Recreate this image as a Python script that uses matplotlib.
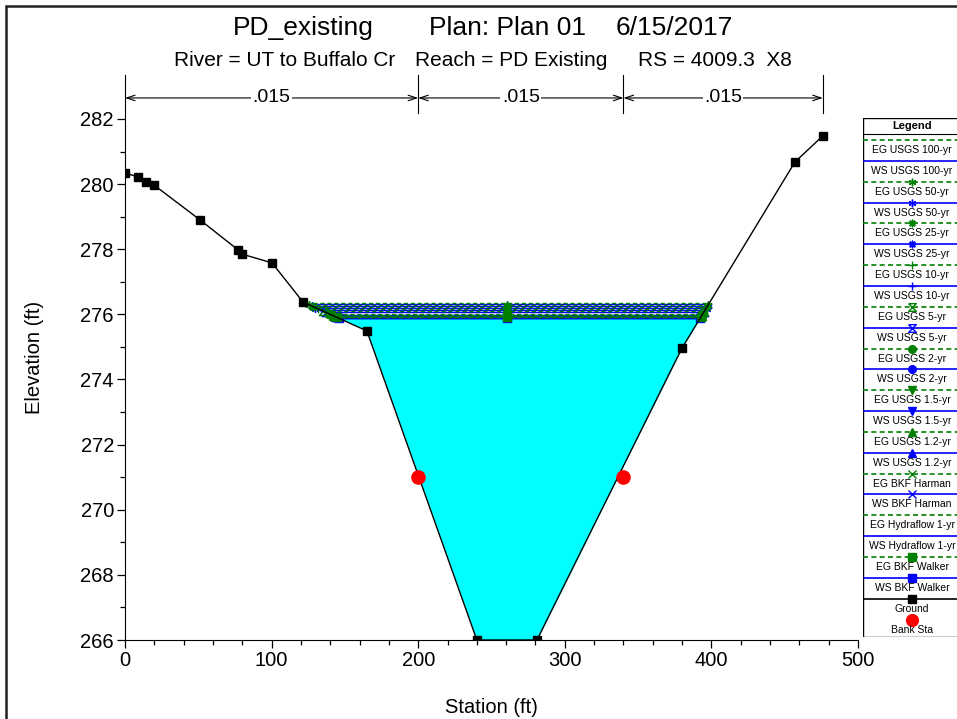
import numpy as np
import matplotlib.pyplot as plt
from matplotlib.patches import Rectangle

plt.rcParams['font.family'] = ['Liberation Sans', 'DejaVu Sans']

# ground cross section
ground_sta = [0, 8.9, 14.3, 19.8, 51.2, 77.1, 79.8, 100.3, 121.4, 165.0,
              240.0, 281.0, 380.0, 457.0, 476.0]
ground_elev = [280.34, 280.22, 280.07, 279.97, 278.90, 277.98, 277.85, 277.58,
               276.38, 275.49, 266.0, 266.0, 274.97, 280.68, 281.48]

bank_sta = [200, 340]
bank_elev = [271.0, 271.0]

# manning's n regions
n_bounds = [0, 200, 340, 476]
n_values = ['.015', '.015', '.015']

# water surface profiles
profiles = ['USGS 100-yr', 'USGS 50-yr', 'USGS 25-yr', 'USGS 10-yr', 'USGS 5-yr',
            'USGS 2-yr', 'USGS 1.5-yr', 'USGS 1.2-yr', 'BKF Harman',
            'Hydraflow 1-yr', 'BKF Walker']
eg_elev = [276.34, 276.29, 276.24, 276.17, 276.10, 276.02, 275.99, 275.96,
           275.93, 275.92, 275.91]
ws_elev = [276.31, 276.26, 276.21, 276.13, 276.06, 275.98, 275.95, 275.93,
           275.90, 275.89, 275.88]
mid_marker_sta = 260.5

hourglass = [(-1, 1), (1, 1), (-1, -1), (1, -1), (-1, 1)]
prof_markers = [None, (6, 2, 0), (8, 2, 0), '+', hourglass, 'o', 'v', '^', 'x', None, 's']
open_markers = [False, False, False, False, True, False, False, False, False, False, False]

green = '#008000'
blue = '#0000FF'

# where a water level meets the ground on each side
left_sta = np.array(ground_sta[:11])[::-1]
left_elev = np.array(ground_elev[:11])[::-1]
right_sta = np.array(ground_sta[11:])
right_elev = np.array(ground_elev[11:])


def edges(z):
    return np.interp(z, left_elev, left_sta), np.interp(z, right_elev, right_sta)


W, H = 957, 719
fig = plt.figure(figsize=(W / 100, H / 100), dpi=100)

# outer frame
fig.patches.append(Rectangle((5.5 / W, -0.1), 1.2, (H - 5.5) / H + 0.1, transform=fig.transFigure,
                             fill=False, lw=1.8, ec='#202020'))

ax = fig.add_axes([125 / W, (H - 640) / H, 733 / W, 565 / H])
ax.set_xlim(0, 500)
ax.set_ylim(266, 283.35)

# flow area below the lowest water surface
wl = min(ws_elev)
gs = np.array(ground_sta)
ge = np.array(ground_elev)
ax.fill_between(gs, ge, wl, where=ge <= wl + 1e-9, interpolate=True,
                color='#00FFFF', lw=0, zorder=1)

# WS first, EG on top
for name, eg, ws, mk, op in zip(profiles, eg_elev, ws_elev, prof_markers, open_markers):
    for z, col, ls, zo in [(ws, blue, '-', 2), (eg, green, (0, (3, 2)), 3)]:
        a, b = edges(z)
        ax.plot([a, b], [z, z], color=col, ls=ls, lw=1.0, zorder=zo)
        if mk is not None:
            ax.plot([a, mid_marker_sta, b], [z, z, z], ls='none', marker=mk, ms=6,
                    mec=col, mfc='none' if op else col, mew=1.0, zorder=zo + 0.5)

ax.plot(ground_sta, ground_elev, color='black', lw=1.0, marker='s', ms=6, zorder=4)
ax.plot(bank_sta, bank_elev, ls='none', marker='o', ms=9.5, color='#FF0000', zorder=5)

# n value brackets
y_arrow = 282.645
for s in n_bounds[1:]:
    ax.plot([s, s], [282.18, 283.35], color='black', lw=0.8, clip_on=False)
for i, nv in enumerate(n_values):
    a, b = n_bounds[i], n_bounds[i + 1]
    ax.annotate('', xy=(a, y_arrow), xytext=(b, y_arrow),
                arrowprops=dict(arrowstyle='<->,head_length=0.6,head_width=0.2',
                                lw=0.8, color='black', shrinkA=0, shrinkB=0))
    ax.text((a + b) / 2, y_arrow, nv, ha='center', va='center', fontsize=14,
            bbox=dict(fc='white', ec='none', pad=1))

for side in ['top', 'right']:
    ax.spines[side].set_visible(False)
ax.set_xticks(range(0, 501, 100))
ax.set_xticks(range(0, 501, 20), minor=True)
ax.set_yticks(range(266, 283, 2))
ax.set_yticks(range(266, 283, 1), minor=True)
ax.tick_params(which='major', length=6, width=0.9, labelsize=14.5, pad=2)
ax.tick_params(which='minor', length=3.5, width=0.9)
ax.set_xlabel('Station (ft)', fontsize=14.5, labelpad=20)
ax.set_ylabel('Elevation (ft)', fontsize=14.5, labelpad=26)

# titles
for txt, x in [('PD_existing', 303.5), ('Plan: Plan 01', 508), ('6/15/2017', 674)]:
    fig.text(x / W, 1 - 28 / H, txt, ha='center', va='center', fontsize=19)
for txt, x in [('River = UT to Buffalo Cr', 284.5), ('Reach = PD Existing', 511.5),
               ('RS = 4009.3  X8', 715)]:
    fig.text(x / W, 1 - 61 / H, txt, ha='center', va='center', fontsize=15)

# legend box drawn in pixel coordinates
lg = fig.add_axes([863 / W, (H - 637) / H, 120 / W, 519 / H])
lg.set_xlim(863, 983)
lg.set_ylim(637, 118)
lg.axis('off')
lg.add_patch(Rectangle((863, 118), 120, 519, fill=False, lw=1.0, ec='black'))
lg.plot([863, 983], [134, 134], color='black', lw=0.8)
lg.text(912, 126, 'Legend', ha='center', va='center', fontsize=8, fontweight='bold')

entries = []
for name, mk, op in zip(profiles, prof_markers, open_markers):
    entries.append(('EG ' + name, green, (0, (3, 2)), mk, op))
    entries.append(('WS ' + name, blue, '-', mk, op))
entries.append(('Ground', 'black', '-', 's', False))
entries.append(('Bank Sta', '#FF0000', 'none', 'o', False))

cx = 912
for k, (label, col, ls, mk, op) in enumerate(entries):
    y = 140 + k * 20.85
    if ls != 'none':
        lg.plot([863, 983], [y, y], color=col, ls=ls, lw=1.2)
    if mk is not None:
        ms = 8.5 if label == 'Bank Sta' else 5.5
        lg.plot([cx], [y], marker=mk, ms=ms, mec=col, mfc='none' if op else col,
                mew=1.0, ls='none')
    lg.text(cx, y + 10, label, ha='center', va='center', fontsize=7.5)

fig.savefig('out.png', dpi=100)
